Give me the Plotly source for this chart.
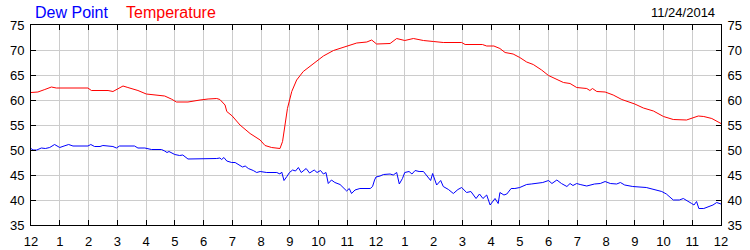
import plotly.graph_objects as go

# ---- data (hours since midnight, degrees F) ----
temp_hours = [0.0, 0.24, 0.48, 0.71, 0.88, 1.3, 1.98, 2.1, 2.68, 2.85, 3.03, 3.2, 3.37, 3.72, 4.01, 4.24,
              4.65, 4.88, 5.06, 5.46, 5.69, 5.88, 6.16, 6.46, 6.57, 6.75, 6.81, 7.0, 7.27, 7.62, 7.97,
              8.14, 8.37, 8.66, 8.75, 8.83, 8.92, 9.07, 9.24, 9.47, 9.82, 10.17, 10.52, 10.98, 11.33,
              11.68, 11.85, 12.02, 12.26, 12.49, 12.72, 13.0, 13.3, 13.65, 14.0, 14.34, 14.98, 15.1,
              15.7, 15.85, 16.1, 16.31, 16.49, 16.77, 17.0, 17.24, 17.47, 17.76, 18.0, 18.29, 18.52,
              18.75, 18.98, 19.33, 19.44, 19.53, 19.68, 19.97, 20.25, 20.55, 20.78, 21.0, 21.3, 21.65,
              22.0, 22.34, 22.8, 22.97, 23.21, 23.4, 23.68, 24.0]
temp_values = [61.5, 61.6, 62.1, 62.6, 62.4, 62.4, 62.4, 61.9, 61.9, 61.7, 62.3, 62.8, 62.5, 61.9, 61.2, 61.1,
               60.8, 60.2, 59.6, 59.6, 59.9, 60.0, 60.2, 60.3, 60.1, 59.0, 57.7, 56.8, 55.0, 53.3, 52.0,
               50.9, 50.5, 50.3, 51.7, 54.7, 58.3, 61.7, 64.0, 65.7, 67.3, 68.8, 69.9, 70.8, 71.4,
               71.6, 72.0, 71.2, 71.2, 71.3, 72.3, 71.9, 72.3, 71.9, 71.7, 71.5, 71.5, 71.1,
               71.1, 70.8, 70.8, 70.3, 69.5, 69.2, 68.5, 67.6, 67.1, 66.0, 64.9, 64.1, 63.5,
               63.3, 62.5, 62.3, 61.9, 62.3, 61.7, 61.6, 61.0, 60.1, 59.7, 59.2, 58.4, 57.8,
               56.7, 56.1, 56.0, 56.3, 56.8, 56.7, 56.3, 55.3]

dew_hours = [0.0, 0.07, 0.2, 0.36, 0.5, 0.65, 0.82, 1.0, 1.15, 1.31, 1.46, 1.98, 2.08, 2.21, 2.4, 2.5,
             2.85, 2.97, 3.08, 3.6, 3.72, 3.96, 4.19, 4.54, 4.65, 4.73, 4.8, 5.0, 5.17, 5.28, 5.46,
             5.7, 6.16, 6.46, 6.57, 6.63, 6.71, 6.81, 6.98, 7.1, 7.27, 7.36, 7.45, 7.56, 7.73, 7.85,
             7.97, 8.2, 8.55, 8.66, 8.72, 8.8, 8.9, 8.99, 9.1, 9.2, 9.3, 9.4, 9.57, 9.69, 9.85, 9.95,
             10.07, 10.17, 10.26, 10.34, 10.45, 10.57, 10.75, 10.98, 11.07, 11.15, 11.27, 11.44,
             11.8, 11.88, 11.95, 12.0, 12.14, 12.26, 12.49, 12.6, 12.72, 12.81, 12.92, 13.0, 13.15,
             13.25, 13.36, 13.5, 13.65, 13.8, 13.9, 13.97, 14.11, 14.25, 14.34, 14.52, 14.69, 14.85,
             14.98, 15.15, 15.3, 15.48, 15.6, 15.72, 15.85, 15.97, 16.14, 16.25, 16.31, 16.45, 16.55,
             16.7, 16.83, 17.0, 17.1, 17.24, 17.4, 17.58, 17.8, 18.0, 18.12, 18.29, 18.45, 18.64,
             18.75, 18.85, 18.98, 19.1, 19.33, 19.6, 19.8, 19.97, 20.15, 20.37, 20.5, 20.65, 20.93,
             21.4, 21.7, 21.94, 22.1, 22.34, 22.55, 22.69, 22.98, 23.06, 23.15, 23.23, 23.4, 23.56,
             23.72, 23.85, 24.0]
dew_values = [50.3, 50.0, 50.0, 50.4, 50.3, 50.5, 51.1, 50.5, 50.8, 51.1, 50.8, 50.8, 51.1, 50.7, 50.7, 50.9,
              50.7, 50.4, 50.8, 50.8, 50.4, 50.4, 50.1, 50.1, 49.8, 49.5, 49.7, 49.1, 48.9, 49.0, 48.2,
              48.2, 48.3, 48.3, 48.4, 48.1, 48.5, 47.8, 47.5, 47.5, 46.9, 46.6, 46.8, 46.3, 45.9, 45.5,
              45.7, 45.5, 45.5, 45.2, 45.6, 43.9, 44.7, 45.5, 46.0, 45.8, 46.5, 45.5, 46.3, 45.4, 46.0, 45.5,
              45.9, 45.2, 45.5, 43.3, 44.0, 43.5, 43.1, 41.8, 42.3, 41.3, 42.0, 42.3,
              42.3, 42.7, 44.0, 44.6, 44.8, 45.1, 45.2, 45.0, 45.5, 43.2, 44.3, 45.5, 45.7,
              45.2, 45.9, 45.7, 45.7, 44.7, 43.9, 45.3, 43.0, 43.9, 42.7, 42.1, 41.3, 42.1,
              42.5, 41.5, 41.7, 40.3, 41.2, 40.3, 41.0, 39.0, 40.3, 39.3, 41.5, 41.0, 41.2,
              42.3, 42.3, 42.5, 42.7, 43.1, 43.2, 43.3, 43.5, 43.9, 43.3, 44.0, 43.3, 42.7,
              43.3, 42.9, 43.3, 43.1, 42.8, 43.2, 43.3, 43.7, 43.3, 43.2, 43.5, 43.0, 42.7,
              42.5, 42.0, 41.7, 41.2, 40.0, 40.0, 40.3, 39.3, 39.0, 39.7, 38.3, 38.3, 38.7,
              39.0, 39.5, 39.2]

x_tick_vals = list(range(0, 25))
x_tick_text = ["12", "1", "2", "3", "4", "5", "6", "7", "8", "9", "10", "11",
               "12", "1", "2", "3", "4", "5", "6", "7", "8", "9", "10", "11", "12"]
y_tick_vals = [35, 40, 45, 50, 55, 60, 65, 70, 75]
date_label = "11/24/2014"

FONT = "Liberation Sans, Arial, sans-serif"

fig = go.Figure()
fig.add_trace(go.Scatter(x=dew_hours, y=dew_values, mode="lines", name="Dew Point",
                         line=dict(color="#0000ff", width=1)))
fig.add_trace(go.Scatter(x=temp_hours, y=temp_values, mode="lines", name="Temperature",
                         line=dict(color="#ff0000", width=1)))
# invisible trace to carry the right-hand axis
fig.add_trace(go.Scatter(x=temp_hours, y=temp_values, yaxis="y2", mode="lines",
                         line=dict(color="rgba(0,0,0,0)", width=0), hoverinfo="skip", showlegend=False))

axis_common = dict(showline=True, linecolor="black", linewidth=1, ticks="inside", ticklen=5,
                   tickcolor="black", tickwidth=1, tickfont=dict(family=FONT, size=13, color="black"),
                   zeroline=False, automargin=False)

fig.update_layout(
    width=750, height=250,
    margin=dict(l=31, r=29, t=25, b=25),
    paper_bgcolor="white", plot_bgcolor="white",
    showlegend=False,
    xaxis=dict(range=[0, 24], tickvals=x_tick_vals, ticktext=x_tick_text, mirror="ticks",
               showgrid=True, gridcolor="#cccccc", gridwidth=1, ticklabelstandoff=4, **axis_common),
    yaxis=dict(range=[35, 75], tickvals=y_tick_vals, mirror="ticks",
               showgrid=True, gridcolor="#cccccc", gridwidth=1, ticklabelstandoff=3, **axis_common),
    yaxis2=dict(range=[35, 75], tickvals=y_tick_vals, overlaying="y", side="right",
                showgrid=False, ticklabelstandoff=3, **axis_common),
    annotations=[
        dict(text="Dew Point", xref="paper", yref="paper", x=0.003, y=1.065, xanchor="left",
             yanchor="middle", showarrow=False, font=dict(family=FONT, size=16, color="#0000ff")),
        dict(text="Temperature", xref="paper", yref="paper", x=0.1348, y=1.065, xanchor="left",
             yanchor="middle", showarrow=False, font=dict(family=FONT, size=16, color="#ff0000")),
        dict(text=date_label, xref="paper", yref="paper", x=0.9942, y=1.065, xanchor="right",
             yanchor="middle", showarrow=False, font=dict(family=FONT, size=13, color="black")),
    ],
)

fig.write_html("out.html")
